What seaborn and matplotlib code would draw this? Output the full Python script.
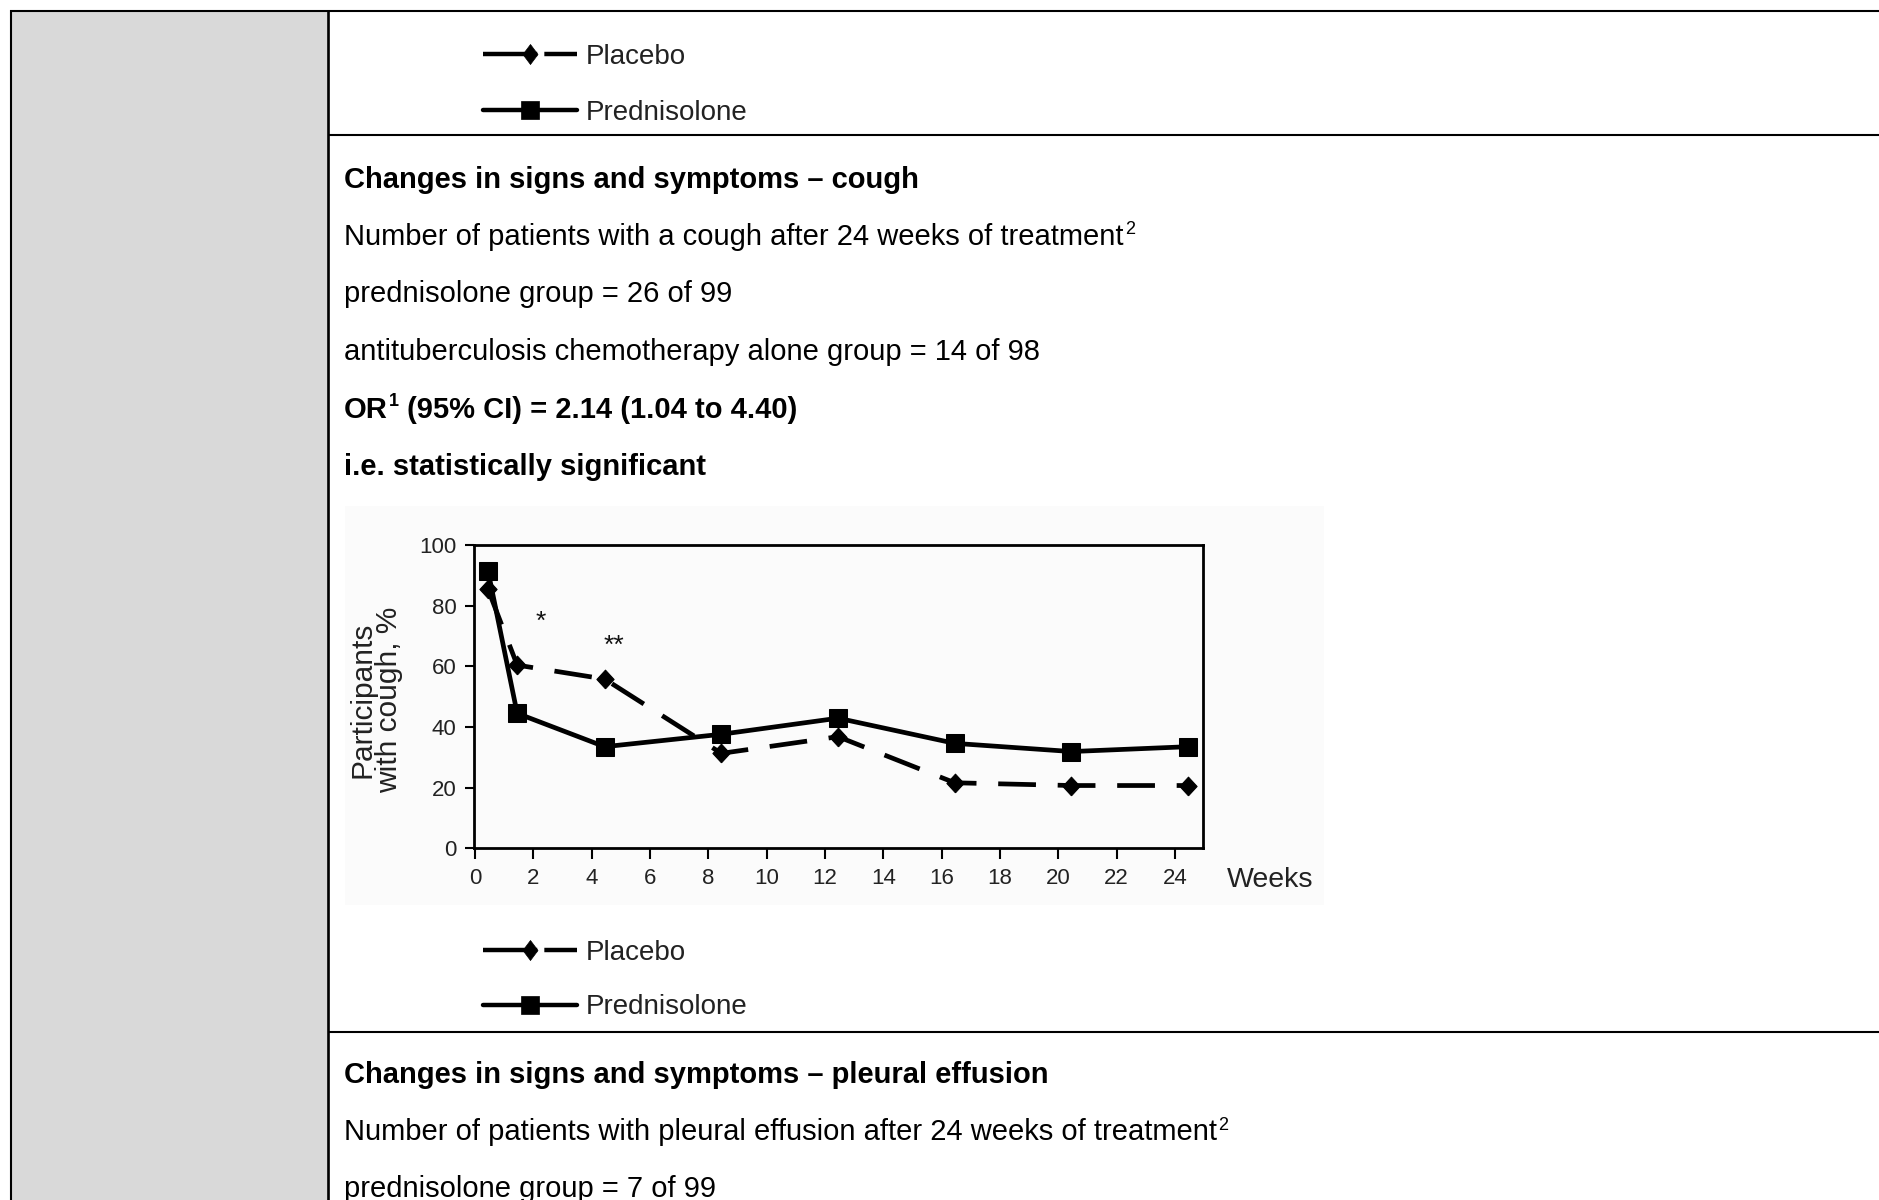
import matplotlib
matplotlib.use("Agg")
import matplotlib.pyplot as plt
from matplotlib.lines import Line2D
from matplotlib.patches import Rectangle
import pandas as pd
import seaborn as sns

# ---------------- data ----------------
weeks = [0.45, 1.45, 4.45, 8.45, 12.45, 16.45, 20.45, 24.45]
placebo = [85.4, 60.4, 55.8, 31.3, 36.8, 21.6, 20.7, 20.7]
prednisolone = [91.5, 44.5, 33.5, 37.6, 42.9, 34.6, 31.9, 33.5]
series_names = ["Placebo", "Prednisolone"]
x_ticks = list(range(0, 25, 2))
y_ticks = [0, 20, 40, 60, 80, 100]
y_label = "Participants\nwith cough, %"
x_label = "Weeks"
star_labels = ["*", "**"]
star_x = [2.25, 4.76]
star_y = [72.2, 64.6]

heading_top = "Changes in signs and symptoms \u2013 cough"
line_count = "Number of patients with a cough after 24 weeks of treatment"
line_pred = "prednisolone group = 26 of 99"
line_alone = "antituberculosis chemotherapy alone group = 14 of 98"
or_main = "OR"
or_sup = "1"
or_rest = "(95% CI) = 2.14 (1.04 to 4.40)"
line_sig = "i.e. statistically significant"
heading_bottom = "Changes in signs and symptoms \u2013 pleural effusion"
line_count_b = "Number of patients with pleural effusion after 24 weeks of treatment"
line_pred_b = "prednisolone group = 7 of 99"
sup_two = "2"

# ---------------- setup ----------------
W, H = 1879, 1200
sns.set_theme(style="ticks")
plt.rcParams["font.family"] = ["Liberation Sans", "DejaVu Sans"]
plt.rcParams["axes.unicode_minus"] = False

fig = plt.figure(figsize=(W / 100, H / 100), dpi=100)
fig.patch.set_facecolor("white")

# background "document" layer in pixel coordinates
bg = fig.add_axes([0, 0, 1, 1], zorder=0)
bg.set_xlim(0, W)
bg.set_ylim(H, 0)
bg.axis("off")

bg.add_patch(Rectangle((11, 10), 317, H, facecolor="#d9d9d9", edgecolor="none"))
bg.add_patch(Rectangle((345, 506), 979, 399, facecolor="#fbfbfb", edgecolor="none"))
frame_kw = dict(color="black", lw=1.5, solid_capstyle="butt")
bg.plot([10, W], [10.5, 10.5], **frame_kw)
bg.plot([11.5, 11.5], [10, H], **frame_kw)
bg.plot([328.5, 328.5], [10, H], color="black", lw=1.9, solid_capstyle="butt")
bg.plot([328, W], [135, 135], **frame_kw)
bg.plot([328, W], [1032, 1032], **frame_kw)

renderer = fig.canvas.get_renderer()
BODY = 21
SUP = 13
TX = 344


def chain(x, y, parts):
    for txt, size, weight, dy, gap in parts:
        t = bg.text(x, y - dy, txt, fontsize=size, fontweight=weight,
                    ha="left", va="baseline", color="black")
        bb = t.get_window_extent(renderer=renderer)
        x += bb.width + gap
    return x


space = 0.278 * BODY * 100 / 72

chain(TX, 187.5, [(heading_top, BODY, "bold", 0, 0)])
chain(TX, 245, [(line_count, BODY, "normal", 0, 1.5), (sup_two, SUP, "normal", 11, 0)])
chain(TX, 302.5, [(line_pred, BODY, "normal", 0, 0)])
chain(TX, 360, [(line_alone, BODY, "normal", 0, 0)])
chain(TX, 417.5, [(or_main, BODY, "bold", 0, 1.0), (or_sup, SUP, "bold", 11, space),
                  (or_rest, BODY, "bold", 0, 0)])
chain(TX, 475, [(line_sig, BODY, "bold", 0, 0)])
chain(TX, 1083, [(heading_bottom, BODY, "bold", 0, 0)])
chain(TX, 1140.5, [(line_count_b, BODY, "normal", 0, 1.5), (sup_two, SUP, "normal", 11, 0)])
chain(TX, 1197, [(line_pred_b, BODY, "normal", 0, 0)])

# ---------------- chart ----------------
L, R, T, B = 474, 1203.3, 545, 848.3
ax = fig.add_axes([L / W, 1 - B / H, (R - L) / W, (B - T) / H], zorder=2)
ax.set_facecolor("none")

df = pd.DataFrame({
    "Weeks": weeks * 2,
    "Value": placebo + prednisolone,
    "Group": [series_names[0]] * len(weeks) + [series_names[1]] * len(weeks),
})

diamond = [(0, -1), (0.92, 0), (0, 1), (-0.92, 0), (0, -1)]
sns.lineplot(data=df[df["Group"] == series_names[0]], x="Weeks", y="Value",
             ax=ax, color="black", lw=3.4, linestyle=(0, (8.0, 4.6)),
             marker=diamond, markersize=13.5, markeredgecolor="black",
             markeredgewidth=0.75, zorder=3, legend=False)
sns.lineplot(data=df[df["Group"] == series_names[1]], x="Weeks", y="Value",
             ax=ax, color="black", lw=3.4, marker="s", markersize=13.5,
             markeredgecolor="black", markeredgewidth=0.75, zorder=4, legend=False)

for lab, sx, sy in zip(star_labels, star_x, star_y):
    ax.text(sx, sy, lab, fontsize=19, ha="center", va="baseline", color="#111111")

ax.set_xlim(-0.03, 24.97)
ax.set_ylim(0, 100)
ax.set_xticks(x_ticks)
ax.set_yticks(y_ticks)
for s in ax.spines.values():
    s.set_visible(True)
    s.set_linewidth(2)
    s.set_color("black")
ax.tick_params(axis="x", length=8, width=1.5, pad=6.5, labelsize=16,
               colors="black", labelcolor="#222222")
ax.tick_params(axis="y", length=6.5, width=1.5, pad=6, labelsize=16,
               colors="black", labelcolor="#222222")

ax.set_ylabel(y_label, fontsize=21.5, linespacing=0.95, color="#222222")
ax.yaxis.set_label_coords((403 - L) / (R - L), (B - 700) / (B - T))
ax.set_xlabel(x_label, fontsize=20.5, color="#222222")
ax.xaxis.label.set_ha("left")
ax.xaxis.label.set_va("baseline")
ax.xaxis.set_label_coords((1226.7 - L) / (R - L), (B - 886.7) / (B - T))

# ---------------- legends (outside chart, as in document) ----------------
leg_diamond = [(0, -1), (0.75, 0), (0, 1), (-0.75, 0), (0, -1)]
h_placebo = Line2D([], [], color="black", lw=3.2, dashes=(12.2, 1.6),
                   marker=leg_diamond, markersize=14.4, markeredgecolor="black",
                   markeredgewidth=0.5)
h_pred = Line2D([], [], color="black", lw=3.2, marker="s", markersize=13.5,
                markeredgecolor="black", markeredgewidth=0.5)


def add_legend(y_px, handle, label):
    leg = fig.legend(handles=[handle], labels=[label], loc="center left",
                     bbox_to_anchor=(483 / W, 1 - y_px / H),
                     bbox_transform=fig.transFigure, frameon=False,
                     borderpad=0, borderaxespad=0, handlelength=3.38,
                     handletextpad=0.32, fontsize=20, labelcolor="#222222")
    return leg


add_legend(56.5, h_placebo, series_names[0])
add_legend(112.5, h_pred, series_names[1])
add_legend(952.5, h_placebo, series_names[0])
add_legend(1007.5, h_pred, series_names[1])

fig.savefig("out.png", dpi=100, facecolor="white")
